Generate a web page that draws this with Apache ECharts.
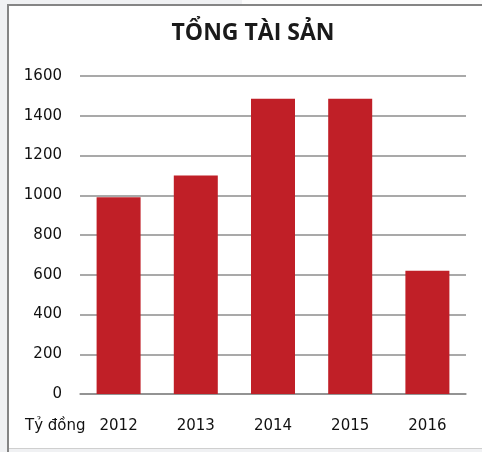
<!DOCTYPE html>
<html>
<head>
<meta charset="utf-8">
<script src="https://cdn.jsdelivr.net/npm/echarts@6/dist/echarts.min.js"></script>
<style>
  html, body { margin: 0; padding: 0; background: #fff; }
  #chart { width: 482px; height: 452px; }
</style>
</head>
<body>
<div id="chart"></div>
<script>
  // du lieu doc tu hinh goc (ty dong)
  var years  = ['2012', '2013', '2014', '2015', '2016'];
  var assets = [990, 1100, 1485, 1485, 620];
  var yTicks = { min: 0, max: 1600, step: 200 };
  var unitLabel = 'Tỷ đồng';
  var titleText = 'TỔNG TÀI SẢN';

  var numFont = '"DejaVu Sans", sans-serif';
  var chart = echarts.init(document.getElementById('chart'), null, { renderer: 'canvas' });

  chart.setOption({
    animation: false,
    backgroundColor: '#fff',
    title: {
      text: titleText,
      left: 248,
      top: 17,
      textAlign: 'center',
      textStyle: {
        fontFamily: '"Open Sans", sans-serif',
        fontWeight: 'bold',
        fontSize: 23,
        color: '#1a1a1a'
      }
    },
    graphic: [
      // khung nen va vien
      { type: 'rect', z: -10, silent: true, shape: { x: 0, y: 0, width: 482, height: 452 }, style: { fill: '#f0f1f3' } },
      { type: 'rect', z: -10, silent: true, shape: { x: 242, y: 0, width: 240, height: 4 }, style: { fill: '#fcfcfc' } },
      { type: 'rect', z: -9, silent: true, shape: { x: 8, y: 5, width: 474, height: 443 }, style: { fill: '#fff' } },
      { type: 'line', z: -8, silent: true, shape: { x1: 8, y1: 5, x2: 482, y2: 5 }, style: { stroke: '#858585', lineWidth: 2 } },
      { type: 'line', z: -8, silent: true, shape: { x1: 8, y1: 4, x2: 8, y2: 452 }, style: { stroke: '#858585', lineWidth: 2 } },
      { type: 'line', z: -8, silent: true, shape: { x1: 9, y1: 448.5, x2: 482, y2: 448.5 }, style: { stroke: '#cfcfcf', lineWidth: 1 } },
      {
        type: 'text', left: 25, top: 419,
        style: { text: unitLabel, font: '15px ' + numFont, fill: '#111' }
      }
    ],
    grid: { left: 80, right: 16, top: 76, bottom: 58 },
    xAxis: {
      type: 'category',
      data: years,
      axisLine: { lineStyle: { color: '#8c8c8c', width: 1.5 } },
      axisTick: { show: false },
      axisLabel: { margin: 25, fontSize: 15, fontFamily: numFont, color: '#111' }
    },
    yAxis: {
      type: 'value',
      min: yTicks.min,
      max: yTicks.max,
      interval: yTicks.step,
      axisLine: { show: false },
      axisTick: { show: false },
      splitLine: { lineStyle: { color: '#8c8c8c', width: 1.5 } },
      axisLabel: {
        margin: 18, fontSize: 15, fontFamily: numFont, color: '#111',
        formatter: function (v) { return String(v); }
      }
    },
    series: [{
      type: 'bar',
      data: assets,
      barWidth: 44,
      itemStyle: { color: '#c01f27' }
    }]
  });
</script>
</body>
</html>
